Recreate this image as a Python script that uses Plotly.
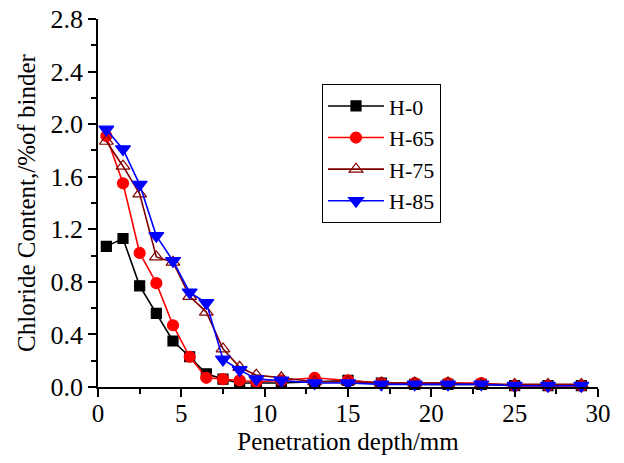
import plotly.graph_objects as go

depth = [0.5, 1.5, 2.5, 3.5, 4.5, 5.5, 6.5, 7.5, 8.5, 9.5, 11, 13, 15, 17, 19, 21, 23, 25, 27, 29]
h0 = [1.07, 1.13, 0.77, 0.56, 0.35, 0.23, 0.10, 0.06, 0.03, 0.03, 0.03, 0.04, 0.05, 0.03, 0.02, 0.02, 0.02, 0.01, 0.01, 0.01]
h65 = [1.91, 1.55, 1.02, 0.79, 0.47, 0.23, 0.07, 0.06, 0.05, 0.04, 0.05, 0.07, 0.05, 0.03, 0.03, 0.03, 0.03, 0.01, 0.01, 0.01]
h75 = [1.87, 1.68, 1.47, 0.99, 0.95, 0.69, 0.57, 0.29, 0.15, 0.09, 0.07, 0.04, 0.04, 0.03, 0.03, 0.03, 0.02, 0.02, 0.02, 0.02]
h85 = [1.96, 1.81, 1.54, 1.15, 0.96, 0.72, 0.64, 0.21, 0.13, 0.06, 0.05, 0.03, 0.03, 0.02, 0.02, 0.02, 0.02, 0.01, 0.01, 0.01]

series = [
    ("H-0", h0, "black", "square", 10),
    ("H-65", h65, "#FF0000", "circle", 11),
    ("H-75", h75, "#800000", "triangle-up-open", 12),
    ("H-85", h85, "#0000FF", "triangle-down", 13),
]

fig = go.Figure()
for name, vals, color, sym, sz in series:
    fig.add_trace(go.Scatter(
        x=depth, y=vals, name=name, mode="lines+markers",
        line=dict(color=color, width=1.6),
        marker=dict(symbol=sym, size=sz, color=color,
                    line=dict(color=color, width=1.2)),
        cliponaxis=False,
    ))

font = "Liberation Serif, Times New Roman, serif"
fig.update_layout(
    width=624, height=463,
    margin=dict(l=98, r=26, t=19, b=76),
    paper_bgcolor="white", plot_bgcolor="white",
    font=dict(family=font, size=24, color="black"),
    showlegend=True,
    legend=dict(
        x=0.448, y=0.823, xanchor="left", yanchor="top",
        bordercolor="black", borderwidth=1, bgcolor="white",
        font=dict(family=font, size=22), tracegroupgap=0,
        itemwidth=56,
    ),
    xaxis=dict(
        range=[0, 30], tickvals=[0, 5, 10, 15, 20, 25, 30],
        automargin=False,
        showgrid=False, zeroline=False, showline=True, linecolor="black", linewidth=1.5,
        ticks="outside", ticklen=8, tickwidth=1.5, tickcolor="black",
        ticklabelstandoff=-5, ticklabeloverflow="allow",
        minor=dict(tickvals=[2.5, 7.5, 12.5, 17.5, 22.5, 27.5], ticks="outside", ticklen=5, tickwidth=1.5, tickcolor="black"),
        title=dict(text="Penetration depth/mm", font=dict(family=font, size=25), standoff=7),
        tickfont=dict(family=font, size=25),
    ),
    yaxis=dict(
        range=[0, 2.8], tickvals=[0, 0.4, 0.8, 1.2, 1.6, 2.0, 2.4, 2.8],
        ticktext=["0.0", "0.4", "0.8", "1.2", "1.6", "2.0", "2.4", "2.8"],
        automargin=False,
        showgrid=False, zeroline=False, showline=True, linecolor="black", linewidth=1.5,
        ticks="outside", ticklen=8, tickwidth=1.5, tickcolor="black",
        ticklabeloverflow="allow",
        minor=dict(tickvals=[0.2, 0.6, 1.0, 1.4, 1.8, 2.2, 2.6], ticks="outside", ticklen=5, tickwidth=1.5, tickcolor="black"),
        title=dict(text="Chloride Content,/%of binder", font=dict(family=font, size=25), standoff=8),
        tickfont=dict(family=font, size=26),
    ),
)

# remove the default page margin so the figure sits at the window's corner
fig.write_html("out.html", config={"displayModeBar": False},
               post_script="document.body.style.margin='0';")
